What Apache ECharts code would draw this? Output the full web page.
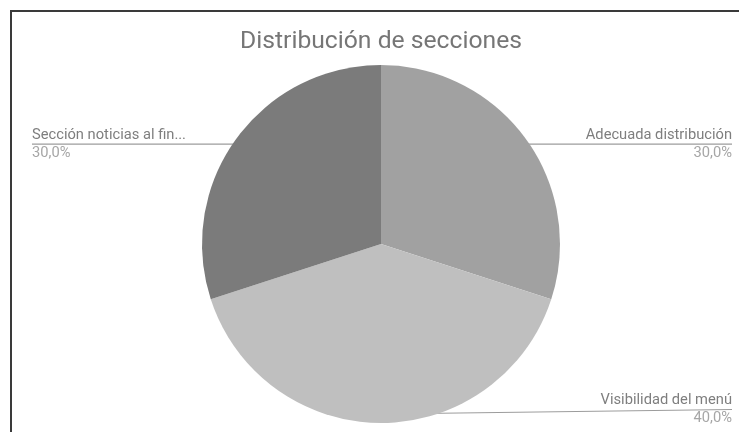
<!DOCTYPE html>
<html>
<head>
<meta charset="utf-8">
<title>Distribución de secciones</title>
<script src="https://cdn.jsdelivr.net/npm/echarts@6/dist/echarts.min.js"></script>
<style>
  html, body { margin: 0; padding: 0; background: #ffffff; }
  #chart { width: 739px; height: 432px; }
</style>
</head>
<body>
<div id="chart"></div>
<script>
// Chart data
const titleText = 'Distribución de secciones';
const categories = ['Adecuada distribución', 'Visibilidad del menú', 'Sección noticias al fin...'];
const values = [30, 40, 30];
const sliceColors = ['#a1a1a1', '#bfbfbf', '#7b7b7b'];

const chart = echarts.init(document.getElementById('chart'), null, { renderer: 'canvas' });

const W = 739, H = 432;
const PIE_CX = 381, PIE_CY = 244, PIE_R = 179;
const LEFT_EDGE = 32;        // left-side labels start here
const RIGHT_EDGE = W - 7;    // right-side labels end here
const BOTTOM_PAD = 6;        // keep labels inside the bottom edge
const ANCHOR_INSET = 9;      // leader lines start a little inside the slice

function fmtPercent(p) {
  return p.toFixed(1).replace('.', ',') + '%';
}

const option = {
  backgroundColor: '#ffffff',
  title: {
    text: titleText,
    left: 235,
    top: 24,
    textStyle: {
      fontFamily: 'Roboto',
      fontSize: 24.7,
      fontWeight: 'normal',
      color: '#767676'
    }
  },
  graphic: [{
    type: 'rect',
    silent: true,
    shape: { x: 11, y: 11, width: 900, height: 600 },
    style: { fill: 'none', stroke: '#3a3a3a', lineWidth: 2 }
  }],
  series: [{
    type: 'pie',
    center: [PIE_CX, PIE_CY],
    radius: PIE_R,
    startAngle: 90,
    clockwise: true,
    avoidLabelOverlap: false,
    itemStyle: { borderWidth: 0 },
    label: {
      show: true,
      formatter: function (p) {
        return '{n|' + p.name + '}\n{p|' + fmtPercent(p.percent) + '}';
      },
      rich: {
        n: { fontFamily: 'Roboto', fontSize: 14.7, color: '#7e7e7e', lineHeight: 18 },
        p: { fontFamily: 'Roboto', fontSize: 14.7, color: '#a6a6a6', lineHeight: 18 }
      }
    },
    labelLine: {
      show: true,
      length: 6,
      length2: 6,
      smooth: false,
      lineStyle: { color: '#9c9c9c', width: 1.2 }
    },
    labelLayout: function (params) {
      const pts = params.labelLinePoints;
      if (!pts || pts.length < 2) return {};
      const p0 = pts[0], p1 = pts[1];
      let dx = p1[0] - p0[0], dy = p1[1] - p0[1];
      const len = Math.hypot(dx, dy) || 1;
      dx /= len; dy /= len;
      const ax = p0[0] - dx * ANCHOR_INSET;
      const ay = p0[1] - dy * ANCHOR_INSET;
      const onRight = dx >= -1e-6;
      const h = params.labelRect.height;
      const y = Math.min(ay, H - BOTTOM_PAD - h / 2);
      const ex = onRight ? RIGHT_EDGE : LEFT_EDGE;
      return {
        x: ex,
        y: y,
        align: onRight ? 'right' : 'left',
        verticalAlign: 'middle',
        labelLinePoints: [[ax, ay], [ax, ay], [ex, y]]
      };
    },
    emphasis: { disabled: true },
    data: categories.map(function (name, i) {
      return { name: name, value: values[i], itemStyle: { color: sliceColors[i] } };
    })
  }]
};

chart.setOption(option);
</script>
</body>
</html>
